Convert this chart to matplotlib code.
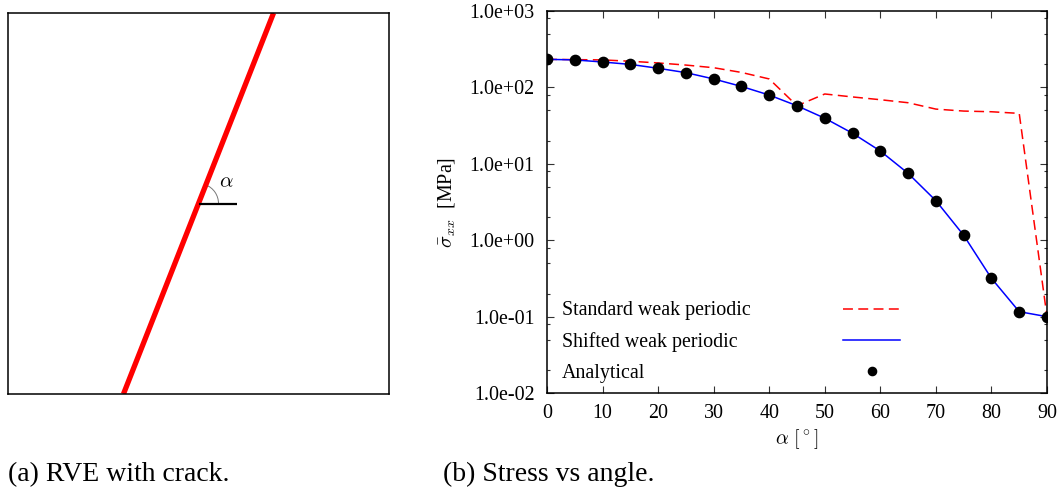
import numpy as np
import matplotlib
matplotlib.use("Agg")
import matplotlib.pyplot as plt
from matplotlib.patches import Arc
from matplotlib.ticker import FixedLocator, FuncFormatter, LogLocator, NullFormatter

plt.rcParams['font.family'] = ['Liberation Serif', 'DejaVu Serif']
plt.rcParams['mathtext.fontset'] = 'cm'

# ---------------- data ----------------
alpha_deg = [0, 5, 10, 15, 20, 25, 30, 35, 40, 45, 50, 55, 60, 65, 70, 75, 80, 85, 90]
standard_weak = [233, 231, 229, 220, 209, 196, 181, 157, 129, 57.5, 82, 75, 69, 63, 52, 49, 48, 45.7, 0.1]
shifted_weak = [233, 229, 215, 200, 178, 156, 129, 103, 79.4, 57.5, 39.5, 25.1, 14.7, 7.5, 3.29, 1.16, 0.317, 0.116, 0.0998]
analytical = [233, 229, 215, 200, 178, 156, 129, 103, 79.4, 57.5, 39.5, 25.1, 14.7, 7.5, 3.29, 1.16, 0.317, 0.116, 0.0998]
series_labels = ["Standard weak periodic", "Shifted weak periodic", "Analytical"]
x_ticks = [0, 10, 20, 30, 40, 50, 60, 70, 80, 90]
y_ticks = [1e-2, 1e-1, 1e0, 1e1, 1e2, 1e3]
crack_angle = 68.5  # degrees

W, H = 1062, 488
fig = plt.figure(figsize=(W / 100, H / 100), dpi=100)

# ---------------- (a) RVE with crack ----------------
ax0 = fig.add_axes([8 / W, 94 / H, 381 / W, 381 / H])
ax0.set_xlim(0, 1)
ax0.set_ylim(0, 1)
ax0.set_xticks([])
ax0.set_yticks([])
for s in ax0.spines.values():
    s.set_linewidth(1.1)
    s.set_color('black')
cx, cy = 0.5, 0.5
dx = 0.5 / np.tan(np.radians(crack_angle))
ax0.plot([cx - dx, cx + dx], [0, 1], color='#ff0000', lw=3.8, solid_capstyle='butt', clip_on=True)
ax0.plot([cx, cx + 0.1], [cy, cy], color='black', lw=1.6, solid_capstyle='butt')
ax0.add_patch(Arc((cx, cy), 0.105, 0.105, theta1=0, theta2=crack_angle, color='#777777', lw=0.7))
ax0.text(cx + 0.072, cy + 0.055, r'$\alpha$', fontsize=15, ha='center', va='center')

# ---------------- (b) Stress vs angle ----------------
ax = fig.add_axes([547 / W, 95 / H, 500 / W, 382 / H])
l_std, = ax.plot(alpha_deg, standard_weak, color='#ff0000', lw=1.1, dashes=(6.5, 3.5))
l_sh, = ax.plot(alpha_deg, shifted_weak, color='#0000ff', lw=1.1)
l_an, = ax.plot(alpha_deg, analytical, linestyle='none', marker='o', color='black', markersize=7.4)

ax.set_yscale('log')
ax.set_xlim(0, 90)
ax.set_ylim(1e-2, 1e3)
ax.xaxis.set_major_locator(FixedLocator(x_ticks))
ax.yaxis.set_major_locator(FixedLocator(y_ticks))
ax.yaxis.set_major_formatter(FuncFormatter(lambda v, p: f"{v:.1e}"))
ax.yaxis.set_minor_locator(LogLocator(base=10, subs=(2.0, 5.0, 8.0)))
ax.yaxis.set_minor_formatter(NullFormatter())
ax.tick_params(which='both', direction='in', top=True, right=True, color='#333333', width=0.8)
ax.tick_params(which='major', length=5, labelsize=14.4)
ax.tick_params(which='minor', length=2.3)
ax.tick_params(axis='y', which='major', pad=9)
ax.tick_params(axis='x', which='major', pad=8)
for s in ax.spines.values():
    s.set_linewidth(1.1)
    s.set_color('black')

ax.set_xlabel(r'$\alpha\ [^\circ]$', fontsize=14.4, labelpad=3)
ax.set_ylabel(r'$\bar{\sigma}_{xx}$  [MPa]', fontsize=14.4, labelpad=9)

handles = [l_std, l_sh, l_an]
leg_y = (393 - 342) / 382
legA = ax.legend(handles, series_labels, loc='center left', bbox_to_anchor=(15 / 500, leg_y),
                 frameon=False, fontsize=14.4, handlelength=0, handletextpad=0,
                 labelspacing=0.6, borderpad=0, borderaxespad=0)
for h in legA.legend_handles:
    h.set_visible(False)
ax.add_artist(legA)
legB = ax.legend(handles, ["", "", ""], loc='center left', bbox_to_anchor=((843 - 547) / 500, leg_y),
                 frameon=False, fontsize=14.4, handlelength=2.85, handletextpad=0,
                 labelspacing=0.6, borderpad=0, borderaxespad=0, markerscale=0.8)

# ---------------- captions ----------------
fig.text(8 / W, (488 - 481) / H, '(a) RVE with crack.', fontsize=20, ha='left', va='baseline')
fig.text(443 / W, (488 - 481) / H, '(b) Stress vs angle.', fontsize=20, ha='left', va='baseline')

fig.savefig('out.png', dpi=100)
